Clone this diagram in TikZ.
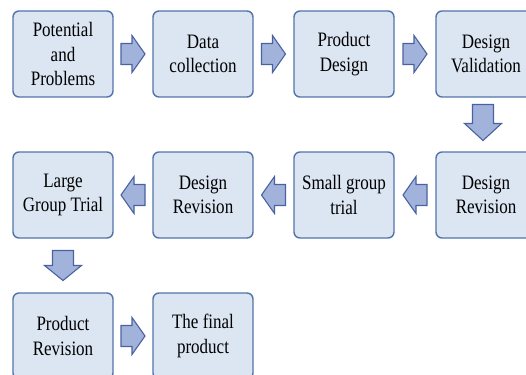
\documentclass[tikz,border=0pt]{standalone}
\usepackage{fontspec}
\setmainfont[FakeStretch=0.83]{Liberation Serif}
\newfontfamily\stagefont[FakeStretch=0.83]{Liberation Serif}
\usetikzlibrary{calc}
\definecolor{boxfill}{HTML}{DCE5F2}
\definecolor{boxline}{HTML}{5274AA}
\definecolor{arrfill}{HTML}{A2B3DB}
\definecolor{arrline}{HTML}{4A62A0}
\tikzset{
  x=1pt, y=-1pt,
  stage/.style={draw=boxline, line width=1.4pt, fill=boxfill, rounded corners=6pt,
    minimum width=100pt, minimum height=86pt, align=center, inner sep=2pt,
    font=\stagefont\fontsize{20.5}{24.5}\selectfont},
  flowarrow/.style={draw=arrline, line width=1.1pt, fill=arrfill, line join=miter},
  % block arrow pointing along +x, centred on the origin: #1 = total length, #2 = head length
  pics/blockarrow/.style 2 args={code={
    \path[flowarrow] (-#1/2,-10.5) -- (#1/2-#2,-10.5) -- (#1/2-#2,-18.5) -- (#1/2,0)
      -- (#1/2-#2,18.5) -- (#1/2-#2,10.5) -- (-#1/2,10.5) -- cycle;
  }}
}
\begin{document}
\begin{tikzpicture}
\useasboundingbox (0,0) rectangle (526,374);

% first row
\node[stage] (pot)  at (63,54)   {Potential\\and\\Problems};
\node[stage] (data) at (203,54)  {Data\\collection};
\node[stage] (prod) at (344,54)  {Product\\Design};
\node[stage] (val)  at (486,54)  {Design\\Validation};
% second row
\node[stage] (rev1) at (486,195) {Design\\Revision};
\node[stage] (small) at (344,195) {Small group\\trial};
\node[stage] (rev2) at (203,195) {Design\\Revision};
\node[stage] (large) at (63,195) {Large\\Group Trial};
% third row
\node[stage] (prev) at (63,336)  {Product\\Revision};
\node[stage] (final) at (203,336) {The final\\product};

% connectors
\pic at ($(pot.east)!0.5!(data.west)$) {blockarrow={24}{13}};
\pic at ($(data.east)!0.5!(prod.west)$) {blockarrow={24}{13}};
\pic at ($(prod.east)!0.5!(val.west)$) {blockarrow={24}{13}};
\pic[rotate=-90] at ($(val.south)!0.5!(rev1.north)+(-3,-2)$) {blockarrow={36}{17}};
\pic[rotate=180] at ($(rev1.west)!0.5!(small.east)$) {blockarrow={24}{13}};
\pic[rotate=180] at ($(small.west)!0.5!(rev2.east)$) {blockarrow={24}{13}};
\pic[rotate=180] at ($(rev2.west)!0.5!(large.east)$) {blockarrow={24}{13}};
\pic[rotate=-90] at ($(large.south)!0.5!(prev.north)$) {blockarrow={30}{15}};
\pic at ($(prev.east)!0.5!(final.west)$) {blockarrow={24}{13}};
\end{tikzpicture}
\end{document}
